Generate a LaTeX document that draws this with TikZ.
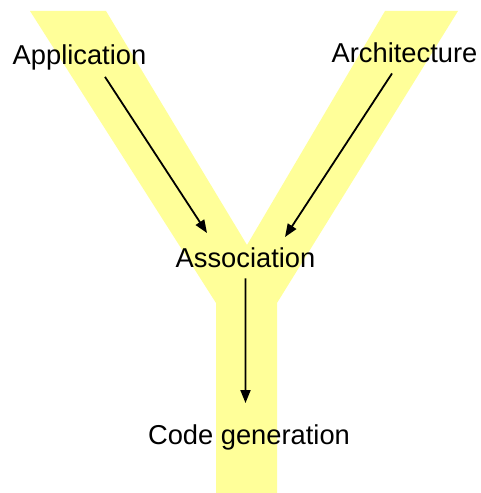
\documentclass[tikz,border=0pt]{standalone}
\usepackage{fontspec}
\setmainfont{Liberation Sans}
\usetikzlibrary{arrows.meta,positioning}
\definecolor{yband}{HTML}{FFFF99}

\begin{document}
\begin{tikzpicture}[x=1bp,y=-1bp,
    lbl/.style={inner sep=0pt,anchor=base,font=\fontsize{27.4}{32}\selectfont},
    arr/.style={-{Triangle[length=13bp,width=10bp]},line width=1.8bp}]
      \useasboundingbox (0,0) rectangle (481,493);
      % the Y
      \fill[fill=yband] (30,11) -- (106,11) -- (247,245) -- (385,11) -- (458,11)
        -- (277,303) -- (277,493) -- (216,493) -- (216,303) -- cycle;
      \node[lbl](app) at (79.5,65){Application};
      \node[lbl](arch) at (404.5,63){Architecture};
      \node[lbl](assoc) at (245.5,267){Association};
      \node[lbl](code) at (249,444){Code generation};
      \draw[arr] ([xshift=25.5bp,yshift=-6bp]app.south) -- ([xshift=-38.5bp,yshift=14bp]assoc.north);
      \draw[arr] ([xshift=-12.5bp,yshift=-10bp]arch.south) -- ([xshift=39.5bp,yshift=10bp]assoc.north);
      \draw[arr] ([yshift=-11bp]assoc.south) -- ([xshift=-3.5bp,yshift=21bp]code.north);
    \end{tikzpicture}
\end{document}
